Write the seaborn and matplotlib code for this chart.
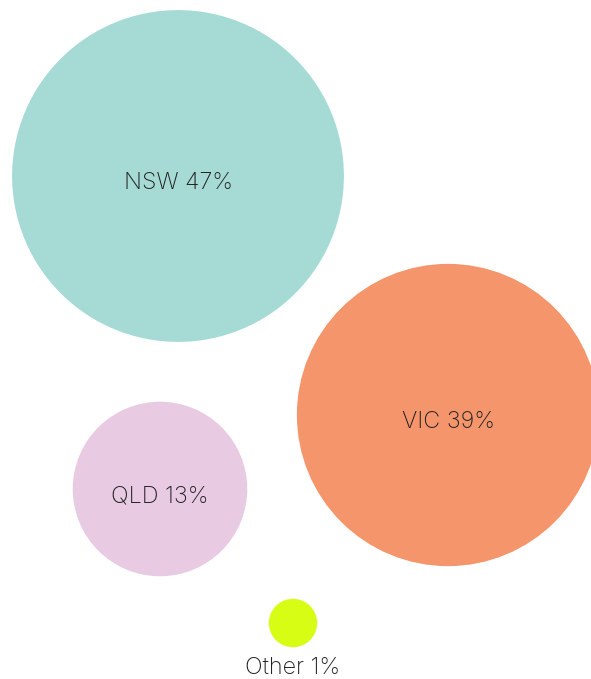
import numpy as np
import pandas as pd
import matplotlib.pyplot as plt
import seaborn as sns

states = ['NSW', 'VIC', 'QLD', 'Other']
share = [47, 39, 13, 1]
centre_x = [178, 448, 160, 293]
centre_y = [176, 415, 489, 623]
colours = ['#a6dbd5', '#f5956b', '#e8cae2', '#d8fd14']

df = pd.DataFrame({'state': states, 'share': share, 'x': centre_x, 'y': centre_y})

sns.set_style('white')
plt.rcParams['font.family'] = ['Inter', 'DejaVu Sans']

W, H, DPI = 591, 679, 100
fig = plt.figure(figsize=(W / DPI, H / DPI), dpi=DPI)
ax = fig.add_axes([0, 0, 1, 1])

# bubble area proportional to share; radius ~24.2 px per sqrt(%)
k = (2 * 24.2 * 72 / DPI) ** 2
sns.scatterplot(data=df, x='x', y='y', hue='state', palette=colours,
                size='share', sizes=(k * min(share), k * max(share)),
                linewidth=0, alpha=1, legend=False, ax=ax)

for s, p, x, y in zip(states, share, centre_x, centre_y):
    if s == 'Other':
        ax.text(x, y + 45, f'{s} {p}%', ha='center', va='center',
                fontsize=16.8, fontweight='light', color='#222222')
    else:
        ax.text(x, y + 7, f'{s} {p}%', ha='center', va='center',
                fontsize=16.8, fontweight='light', color='#222222')

ax.set_xlim(0, W)
ax.set_ylim(H, 0)
ax.axis('off')
fig.savefig('out.png', dpi=DPI)
